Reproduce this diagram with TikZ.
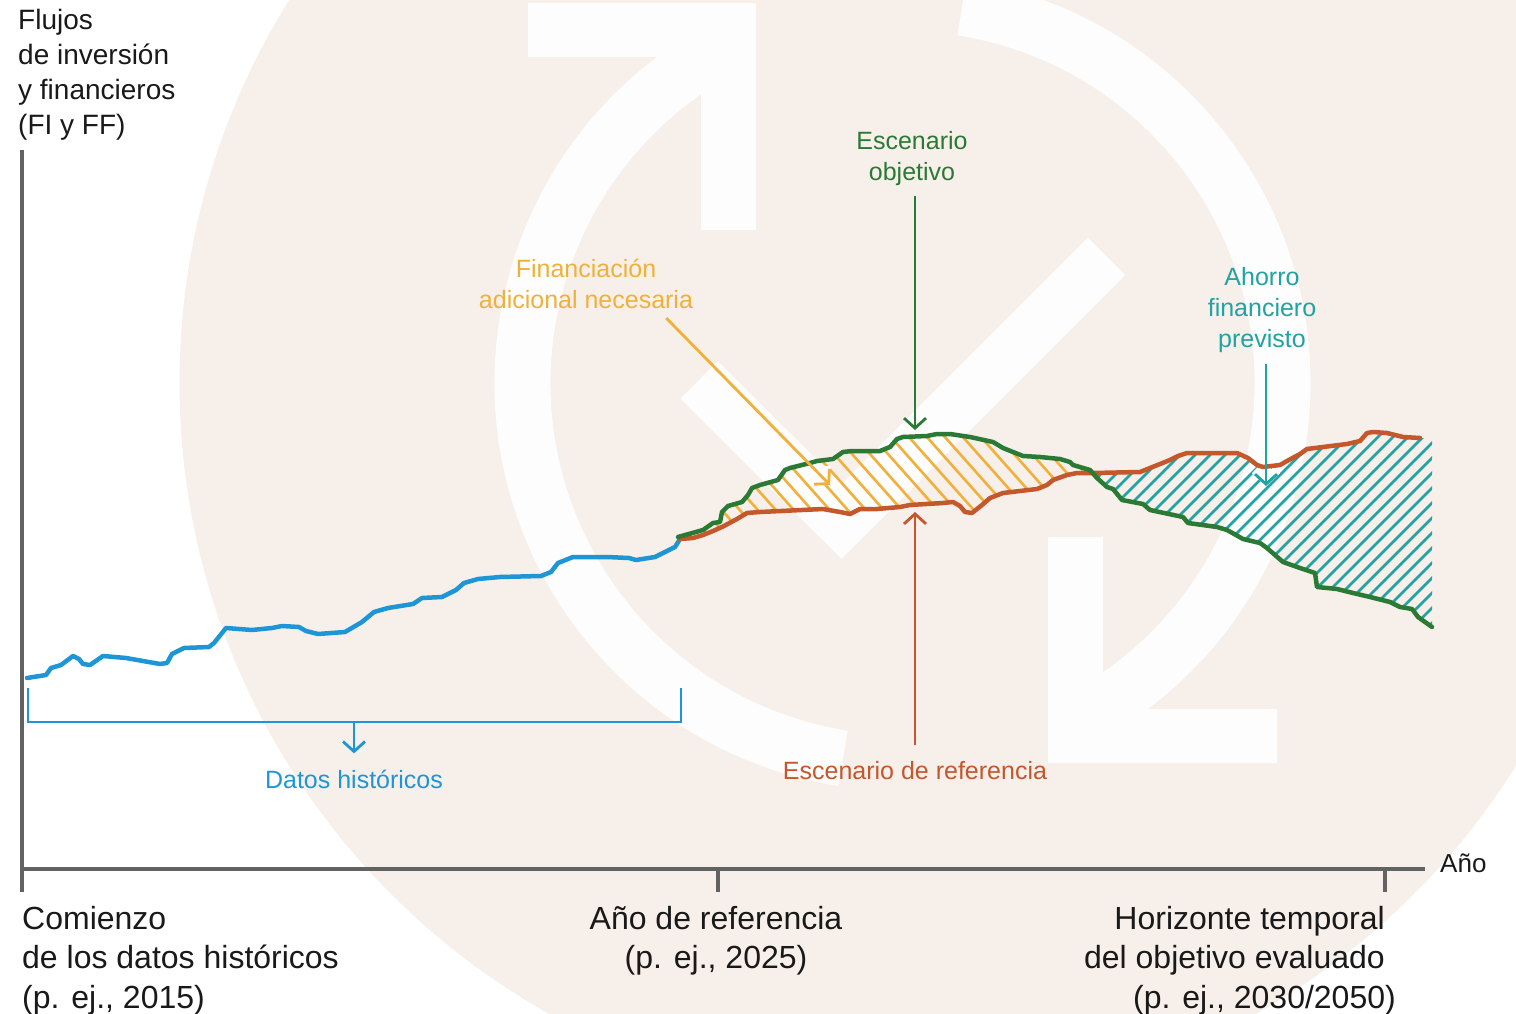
\documentclass[tikz,border=0pt]{standalone}
\usepackage{fontspec}
\setmainfont{Liberation Sans}
\usetikzlibrary{arrows.meta}

\definecolor{histblue}{HTML}{1E96D6}
\definecolor{goalgreen}{HTML}{2A7A35}
\definecolor{refred}{HTML}{C4572B}
\definecolor{gapyellow}{HTML}{F0B03A}
\definecolor{saveteal}{HTML}{20A3A3}
\definecolor{logobeige}{HTML}{F7F0EA}
\definecolor{logowhite}{HTML}{FDFDFD}
\definecolor{axisgray}{HTML}{626262}

\newcommand{\histcurve}{(27,678) -- (46,675) -- (51,668) -- (61,665) -- (73,656) -- (79,659) -- (83,664) -- (90,665) -- (103,656) -- (126,658) -- (160,664) -- (167,663) -- (172,654) -- (184,648) -- (209,647) -- (214,643) -- (226,628) -- (252,630) -- (272,628) -- (282,626) -- (299,627) -- (306,631) -- (318,634) -- (345,632) -- (362,622) -- (374,612) -- (388,608) -- (413,604) -- (422,598) -- (442,597) -- (456,590) -- (464,583) -- (478,579) -- (500,577) -- (541,576) -- (551,572) -- (558,563) -- (568,559) -- (573,557) -- (607,557) -- (629,558) -- (636,560) -- (655,557) -- (675,547) -- (680,539)}
\newcommand{\refcurve}{(680,539) -- (693,538) -- (703,535) -- (713,531) -- (722,527) -- (737,519) -- (747,513) -- (760,512) -- (823,509) -- (840,512) -- (850,514) -- (860,509) -- (877,509) -- (900,507) -- (910,505) -- (943,503) -- (953,502) -- (960,506) -- (965,512) -- (972,513) -- (982,505) -- (990,498) -- (1003,493) -- (1037,489) -- (1047,485) -- (1053,480) -- (1067,475) -- (1077,473) -- (1093,473) -- (1140,472) -- (1150,468) -- (1170,460) -- (1178,456) -- (1187,453) -- (1237,453) -- (1248,458) -- (1257,465) -- (1263,467) -- (1280,465) -- (1287,461) -- (1300,454) -- (1307,449) -- (1347,444) -- (1360,441) -- (1367,433) -- (1373,432) -- (1387,433) -- (1403,437) -- (1420,438)}
\newcommand{\goalcurve}{(678,537) -- (703,530) -- (713,523) -- (720,522) -- (722,512) -- (728,506) -- (742,502) -- (748,495) -- (752,488) -- (760,485) -- (778,480) -- (785,470) -- (790,468) -- (810,463) -- (817,461) -- (833,459) -- (843,452) -- (852,451) -- (880,451) -- (890,447) -- (897,439) -- (903,437) -- (927,436) -- (937,434) -- (950,434) -- (970,437) -- (993,442) -- (1003,448) -- (1013,452) -- (1023,456) -- (1040,457) -- (1060,459) -- (1070,462) -- (1073,465) -- (1090,470) -- (1097,478) -- (1107,487) -- (1113,489) -- (1122,500) -- (1143,504) -- (1150,510) -- (1183,517) -- (1188,523) -- (1217,527) -- (1227,530) -- (1243,539) -- (1260,543) -- (1267,548) -- (1283,562) -- (1300,568) -- (1315,573) -- (1317,587) -- (1337,589) -- (1353,593) -- (1370,597) -- (1390,602) -- (1400,607) -- (1412,609) -- (1418,617) -- (1432,627)}

\begin{document}
\begin{tikzpicture}[
	x=1pt, y=-1pt,
  > = {Straight Barb[length=10pt,width=22pt]},
  curve/.style = {line width=4.5pt, line join=round, line cap=round},
  pointer/.style = {->, line width=2.8pt},
  bracket/.style = {histblue, line width=2.8pt},
  hatch/.style = {line width=2.6pt},
  halo/.style = {->, logowhite, line width=9pt},
  axis/.style = {axisgray, line width=3.2pt},
  lbl/.style = {inner sep=0pt, align=center, font=\fontsize{25}{31}\selectfont},
  axislbl/.style = {inner sep=0pt, text=black!90, font=\fontsize{32}{39.5}\selectfont}
  ]
	\useasboundingbox (0,0) rectangle (1516,1014);

	% logo behind the chart
	\begin{scope}
		\clip (0,0) rectangle (1516,1014);
		\fill[logobeige] (902.5,383) circle (723);
	\end{scope}
	\draw[logowhite, line width=56pt] (902.5,383) ++(-120:380) arc (-120:-261:380);
	\draw[logowhite, line width=56pt] (902.5,383) ++(-81:380) arc (-81:60:380);
	\fill[logowhite] (528,3) -- (756,3) -- (756,230) -- (701,230) -- (701,57) -- (528,57) -- cycle;
	\fill[logowhite] (1277,763) -- (1048,763) -- (1048,537) -- (1103,537) -- (1103,709) -- (1277,709) -- cycle;
	\draw[logowhite, line width=53pt, line join=miter] (699,380) -- (841.5,521.5) -- (1106.5,256.5);

	% axes
	\coordinate (@o) at (22,869);
	\draw[axis] (22,150) -- (22,892);
	\draw[axis] (@o) -- (1425,869);
	\draw[axis] (718,869) -- (718,892);
	\draw[axis] (1385,869) -- (1385,892);
	\node[inner sep=0pt, text=black!90, font=\fontsize{26}{30}\selectfont, anchor=base west] (xlab) at (1440,872) {Año};
	\node[inner sep=0pt, text=black!90, font=\fontsize{28}{35}\selectfont, align=left, anchor=north west] (ylab) at (18,9) {Flujos\\de inversión\\y financieros\\(FI y FF)};
	\node[axislbl, align=left, anchor=north west] (start) at (22,906) {Comienzo\\de los datos históricos\\(p. ej., 2015)};
	\node[axislbl, align=center, anchor=north] (base) at (716,906) {Año de referencia\\(p. ej., 2025)};
	\node[axislbl, align=right, anchor=north east] (horizon) at (1385,906) {Horizonte temporal\\del objetivo evaluado\\(p. ej., 2030/2050)\kern-11pt};

	% labels
	\node[lbl, text=goalgreen, anchor=north] (obj) at (912,131) {Escenario\\objetivo};
	\node[lbl, text=gapyellow, anchor=north] (fin) at (586,259) {Financiación\\adicional necesaria};
	\node[lbl, text=saveteal, anchor=north] (save) at (1262,267) {Ahorro\\financiero\\previsto};
	\node[lbl, text=refred, anchor=base] (ref) at (915,779) {Escenario de referencia};
	\node[lbl, text=histblue, anchor=base] (hist) at (354,788) {Datos históricos};

	\coordinate (@fin) at (830,485);
	\coordinate (@obj) at (915,430);
	\coordinate (@ref) at (915,512);
	\coordinate (@save) at (1266,486);
	\coordinate (@brl) at (28,688);
	\coordinate (@brr) at (681,688);
	\coordinate (@histmid) at (354,722);

	% hatched areas
	\begin{scope}
		\clip \refcurve -- (1432,438) -- (1432,0) -- (678,0) -- cycle;
		\clip \goalcurve -- (1432,1014) -- (678,1014) -- cycle;
		\foreach \x in {480,498,...,1120}
			\draw[hatch, gapyellow] (\x,400) -- ++(160,180);
		\draw[halo] ([xshift=-27pt,yshift=-9pt]fin.south east) -- (@fin);
	\end{scope}
	\begin{scope}
		\clip \refcurve -- (1432,438) -- (1432,1014) -- (678,1014) -- cycle;
		\clip \goalcurve -- (1432,0) -- (678,0) -- cycle;
		\foreach \x in {1080,1095,...,1680}
			\draw[hatch, saveteal] (\x,420) -- ++(-230,230);
		\draw[halo, shorten <=11pt] (save.south -| @save) -- (@save);
	\end{scope}

	% curves
	\draw[curve, histblue] \histcurve;
	\draw[curve, refred] \refcurve;
	\draw[curve, goalgreen] \goalcurve;

	% pointers
	\draw[bracket] (@brl) -- ++(0,34) -| (@brr);
	\draw[pointer, histblue, shorten >=16pt] (@histmid) -- (hist.north);
	\draw[pointer, gapyellow] ([xshift=-27pt,yshift=-9pt]fin.south east) -- (@fin);
	\draw[pointer, goalgreen, shorten <=10pt] (obj.south -| @obj) -- (@obj);
	\draw[pointer, refred, shorten <=16pt] (ref.north -| @ref) -- (@ref);
	\draw[pointer, saveteal, shorten <=11pt] (save.south -| @save) -- (@save);

\end{tikzpicture}
\end{document}
